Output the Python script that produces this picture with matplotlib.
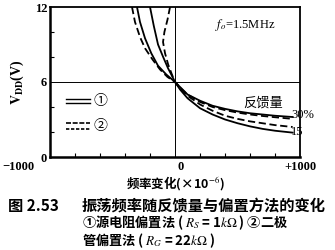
"""
Oscillation frequency vs feedback amount and bias method (Fig. 2.53).
"""
import matplotlib
matplotlib.use("Agg")
import matplotlib.pyplot as plt
import matplotlib.ticker as mticker

plt.rcParams["font.family"] = ["Liberation Serif", "Noto Sans CJK SC", "DejaVu Sans"]
plt.rcParams["mathtext.fontset"] = "stix"

# frequency change (x1e-6) and V_DD (V)
f_s15 = [-200, -170, -136, -95, -56, -25, 0, 40, 100, 200, 300, 400, 500, 600, 700, 800, 940]
v_s15 = [12.0, 10.5, 9.0, 8.0, 7.1, 6.5, 6.0, 5.4, 4.7, 3.9, 3.4, 3.0, 2.7, 2.45, 2.25, 2.1, 1.95]

f_d15 = [-40, -60, -85, -96, -80, -55, -25, 0, 40, 100, 200, 300, 400, 500, 600, 700, 800, 940]
v_d15 = [12.0, 11.0, 10.0, 9.2, 8.3, 7.4, 6.6, 6.0, 5.5, 4.9, 4.2, 3.7, 3.3, 3.05, 2.85, 2.7, 2.55, 2.4]

f_s30 = [-304, -280, -240, -190, -136, -70, 0, 50, 100, 200, 300, 400, 500, 600, 700, 800, 940]
v_s30 = [12.0, 10.8, 9.5, 8.3, 7.3, 6.6, 6.0, 5.5, 5.0, 4.5, 4.1, 3.85, 3.65, 3.5, 3.4, 3.3, 3.2]

f_d30 = [-344, -320, -280, -240, -180, -120, -60, 0, 50, 100, 200, 300, 400, 500, 600, 700, 800, 940]
v_d30 = [12.0, 10.8, 9.6, 8.7, 7.8, 7.0, 6.4, 6.0, 5.45, 5.0, 4.4, 4.0, 3.75, 3.55, 3.4, 3.28, 3.18, 3.05]

x_ticks = [-1000, 0, 1000]
x_ticklabels = ["\u22121000", "0", "+1000"]
y_ticks = [0, 6, 12]

cjk = ["Noto Sans CJK SC", "DejaVu Sans"]

fig = plt.figure(figsize=(3.35, 2.5), dpi=100)
ax = fig.add_axes([0.149, 0.372, 0.747, 0.6])

dash = (0, (4, 2))
ax.plot(f_s15, v_s15, color="black", lw=1.3)
ax.plot(f_d15, v_d15, color="black", lw=1.3, linestyle=dash)
ax.plot(f_s30, v_s30, color="black", lw=1.3)
ax.plot(f_d30, v_d30, color="black", lw=1.3, linestyle=dash)

ax.axhline(6, color="black", lw=0.7)
ax.axvline(0, color="black", lw=0.7)

ax.set_xlim(-1000, 1000)
ax.set_ylim(0, 12)
for s in ax.spines.values():
    s.set_linewidth(1.3)
ax.spines["left"].set_linewidth(1.8)
ax.spines["bottom"].set_linewidth(1.8)

ax.set_yticks(y_ticks)
ax.set_yticklabels([str(v) for v in y_ticks], fontsize=9, fontweight="bold")
ax.yaxis.set_minor_locator(mticker.MultipleLocator(2))
ax.set_xticks(x_ticks)
ax.set_xticklabels([])
ax.xaxis.set_minor_locator(mticker.MultipleLocator(200))
ax.tick_params(which="both", direction="in", length=3, width=0.8, pad=2)
ax.tick_params(axis="x", which="major", length=0)
ax.tick_params(axis="y", which="major", length=0)

# x tick labels sit a little off the ticks in the original
for xv, lab, dx, ha in zip(x_ticks, x_ticklabels, [-120, 20, 0], ["right", "left", "center"]):
    ax.text(xv + dx, -0.35, lab, ha=ha, va="top", fontsize=9, fontweight="bold")

ax.set_ylabel(r"$\mathbf{V_{DD}}$" + "(V)", fontsize=10, fontweight="bold", labelpad=6)
ax.text(0.0, -2.1, "频率变化(×10$^{-6}$)", ha="center", va="center", fontsize=9,
        family=cjk, fontweight="bold")

# legend keys: double lines
ax.plot([0.066, 0.16], [0.385, 0.385], transform=ax.transAxes, color="black", lw=1.0)
ax.plot([0.066, 0.16], [0.363, 0.363], transform=ax.transAxes, color="black", lw=1.0)
ax.text(0.2, 0.374, "①", transform=ax.transAxes, ha="center", va="center",
        fontsize=10, family=cjk)
ax.plot([0.066, 0.16], [0.227, 0.227], transform=ax.transAxes, color="black", lw=1.2,
        linestyle=(0, (3, 1)))
ax.plot([0.066, 0.16], [0.19, 0.19], transform=ax.transAxes, color="black", lw=1.2,
        linestyle=(0, (2, 1)))
ax.text(0.2, 0.208, "②", transform=ax.transAxes, ha="center", va="center",
        fontsize=10, family=cjk)

ax.text(0.9, 0.88, r"$f_o$=1.5MHz", transform=ax.transAxes, ha="right", va="center",
        fontsize=9)
ax.text(0.93, 0.36, "反馈量", transform=ax.transAxes, ha="right", va="center",
        fontsize=9.5, family=cjk)
ax.text(0.965, 0.28, "30%", transform=ax.transAxes, ha="left", va="center", fontsize=9)
ax.text(0.965, 0.165, "15", transform=ax.transAxes, ha="left", va="center", fontsize=9)

# caption
cap = dict(fontsize=11, family=cjk, fontweight="bold", ha="left", va="center")
cap2 = dict(cap, fontsize=9.5)
fig.text(8 / 335, 1 - 206 / 250, "图 2.53", **cap)
fig.text(82 / 335, 1 - 206 / 250, "振荡频率随反馈量与偏置方法的变化", **cap)
fig.text(82 / 335, 1 - 223 / 250, "①源电阻偏置法 ( $R_S$ = 1$k\\Omega$ ) ②二极", **cap2)
fig.text(82 / 335, 1 - 241 / 250, "管偏置法 ( $R_G$ = 22$k\\Omega$ )", **cap2)

fig.savefig("out.png", dpi=100)
